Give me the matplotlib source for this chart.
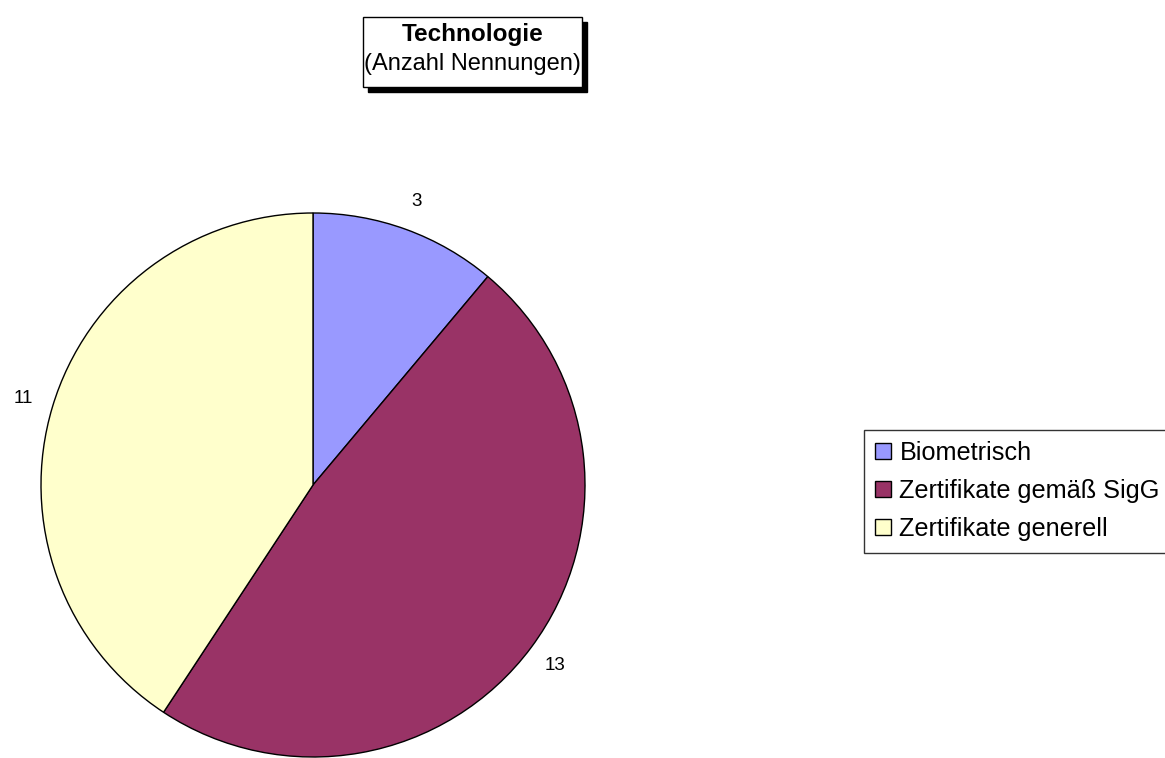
import matplotlib
matplotlib.use("Agg")
import matplotlib.pyplot as plt
from matplotlib.patches import Rectangle, Patch

plt.rcParams['font.family'] = ['Liberation Sans', 'DejaVu Sans']

categories = ['Biometrisch', 'Zertifikate gemäß SigG', 'Zertifikate generell']
counts = [3, 13, 11]
colors = ['#9999FF', '#993366', '#FFFFCC']

W, H = 1165, 758
fig = plt.figure(figsize=(W / 100, H / 100), dpi=100)

# pie axes: centre (313, 485) px, radius 272 px
cx, cy, r = 313, 485, 272
ax = fig.add_axes([(cx - r) / W, (H - cy - r) / H, 2 * r / W, 2 * r / H])
total = sum(counts)
wedges, _, autotexts = ax.pie(counts, colors=colors, startangle=90, counterclock=False,
                              radius=1.0,
                              autopct=lambda p: '%d' % round(p * total / 100),
                              pctdistance=1.11,
                              wedgeprops=dict(edgecolor='black', linewidth=1.0),
                              textprops=dict(fontsize=13.5, color='black'))
for t in autotexts:
    t.set_clip_on(False)
ax.set_xlim(-1, 1)
ax.set_ylim(-1, 1)
ax.set_aspect('auto')
ax.axis('off')

# title box with shadow
bx, by, bw, bh = 363, 17, 219, 70
sh = 5
fig.patches.append(Rectangle(((bx + sh) / W, 1 - (by + bh + sh) / H), bw / W, bh / H,
                             transform=fig.transFigure, facecolor='black', edgecolor='black'))
fig.patches.append(Rectangle((bx / W, 1 - (by + bh) / H), bw / W, bh / H,
                             transform=fig.transFigure, facecolor='white', edgecolor='black',
                             linewidth=1.0))
fig.text((bx + bw / 2) / W, 1 - 34 / H, 'Technologie', ha='center', va='center',
         fontsize=17.5, fontweight='bold')
fig.text((bx + bw / 2) / W, 1 - 64 / H, '(Anzahl Nennungen)', ha='center', va='center',
         fontsize=17)

# legend box runs off the right edge of the figure
handles = [Patch(facecolor=c, edgecolor='black', linewidth=1.0) for c in colors]
leg = fig.legend(handles, categories, loc='upper left', mode='expand',
                 bbox_to_anchor=(864 / W, 1 - 430 / H, 0.3, 0), bbox_transform=fig.transFigure,
                 fontsize=18.2, frameon=True, fancybox=False, shadow=False,
                 handlelength=0.6, handleheight=0.6, handletextpad=0.35,
                 labelspacing=0.55, borderpad=0.45, borderaxespad=0)
leg.get_frame().set_edgecolor('black')
leg.get_frame().set_linewidth(1.0)

fig.savefig('out.png', dpi=100)
